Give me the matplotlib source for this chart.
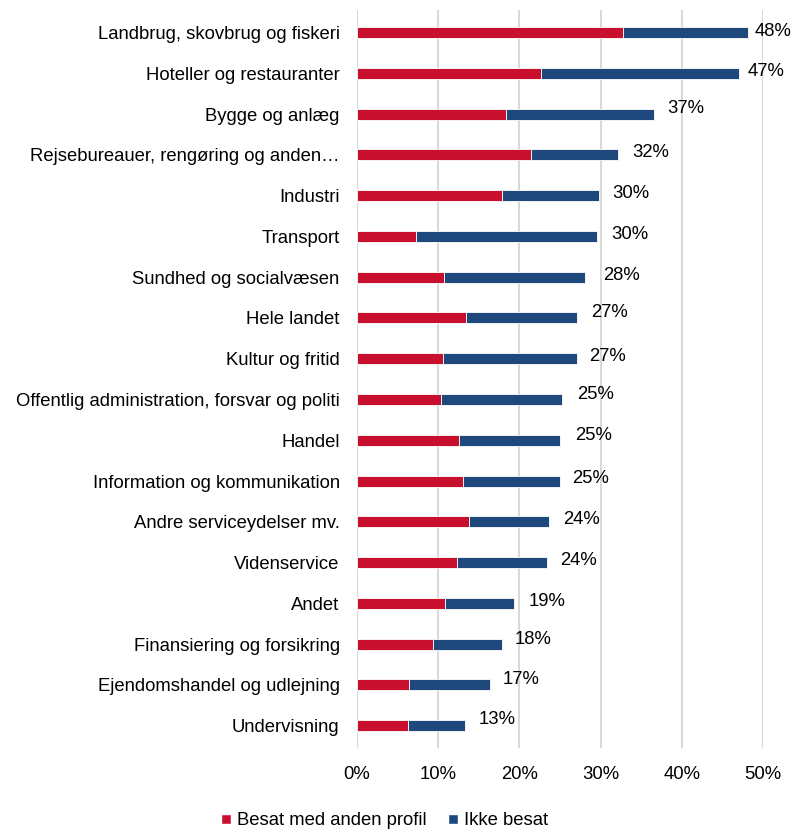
import matplotlib
matplotlib.use("Agg")
import matplotlib.pyplot as plt
from matplotlib.lines import Line2D

plt.rcParams['font.family'] = ['Liberation Sans', 'DejaVu Sans']

categories = [
    "Landbrug, skovbrug og fiskeri",
    "Hoteller og restauranter",
    "Bygge og anlæg",
    "Rejsebureauer, rengøring og anden…",
    "Industri",
    "Transport",
    "Sundhed og socialvæsen",
    "Hele landet",
    "Kultur og fritid",
    "Offentlig administration, forsvar og politi",
    "Handel",
    "Information og kommunikation",
    "Andre serviceydelser mv.",
    "Videnservice",
    "Andet",
    "Finansiering og forsikring",
    "Ejendomshandel og udlejning",
    "Undervisning",
]
besat_anden = [32.7, 22.6, 18.4, 21.4, 17.8, 7.3, 10.7, 13.4, 10.6, 10.3, 12.6, 13.1, 13.8, 12.3, 10.8, 9.4, 6.4, 6.3]
ikke_besat = [15.4, 24.5, 18.2, 10.7, 12.0, 22.2, 17.4, 13.7, 16.5, 14.9, 12.4, 11.9, 9.9, 11.1, 8.5, 8.4, 10.0, 7.0]
total_labels = ["48%", "47%", "37%", "32%", "30%", "30%", "28%", "27%", "27%", "25%", "25%", "25%", "24%", "24%", "19%", "18%", "17%", "13%"]
xticks = [0, 10, 20, 30, 40, 50]
xtick_labels = ["0%", "10%", "20%", "30%", "40%", "50%"]

# label placement (pixels right of bar end, pixels above bar centre)
label_dx = [7, 8.6, 12.7, 14.7, 13.7, 14.4, 18, 14.4, 11.6, 15, 15, 12.6, 13.4, 13, 15, 12.7, 12, 13.3]
label_dy = [1, 1.4, 5.7, 2, 2, 2, 1.7, 5.3, 2.3, 5, 5, 2.4, 2, 2.6, 2, 5, 5.7, 6.7]

red = "#C8102E"
blue = "#1F497D"
FS = 13.3

fig = plt.figure(figsize=(7.92, 8.35), dpi=100)
ax = fig.add_axes([0.4508, 0.104, 0.5126, 0.884])

y = list(range(len(categories)))
ax.barh(y, besat_anden, height=0.27, color=red, edgecolor="white", linewidth=0.6, zorder=3)
ax.barh(y, ikke_besat, left=besat_anden, height=0.27, color=blue, edgecolor="white", linewidth=0.6, zorder=3)

for i, (a, b, lab) in enumerate(zip(besat_anden, ikke_besat, total_labels)):
    ax.annotate(lab, xy=(a + b, i), xytext=(label_dx[i], label_dy[i]),
                textcoords="offset pixels", va="center", ha="left",
                fontsize=FS, color="#000000", annotation_clip=False)

ax.set_xlim(0, 50)
ax.set_ylim(17.55, -0.55)
ax.set_yticks(y)
ax.set_yticklabels(categories, fontsize=FS)
ax.set_xticks(xticks)
ax.set_xticklabels(xtick_labels, fontsize=FS)
ax.tick_params(axis="y", length=0, pad=12.5)
ax.tick_params(axis="x", length=0, pad=13)
ax.grid(axis="x", color="#D9D9D9", linewidth=1.5, zorder=0)
for s in ax.spines.values():
    s.set_visible(False)

handles = [Line2D([0], [0], marker="s", color="w", markerfacecolor=red, markersize=7, linestyle=""),
           Line2D([0], [0], marker="s", color="w", markerfacecolor=blue, markersize=7, linestyle="")]
fig.legend(handles, ["Besat med anden profil", "Ikke besat"], loc="lower center",
           bbox_to_anchor=(0.483, -0.013), ncol=2, frameon=False, fontsize=FS,
           handletextpad=0.1, columnspacing=0.9, handlelength=1.0)

fig.savefig("out.png", dpi=100)
